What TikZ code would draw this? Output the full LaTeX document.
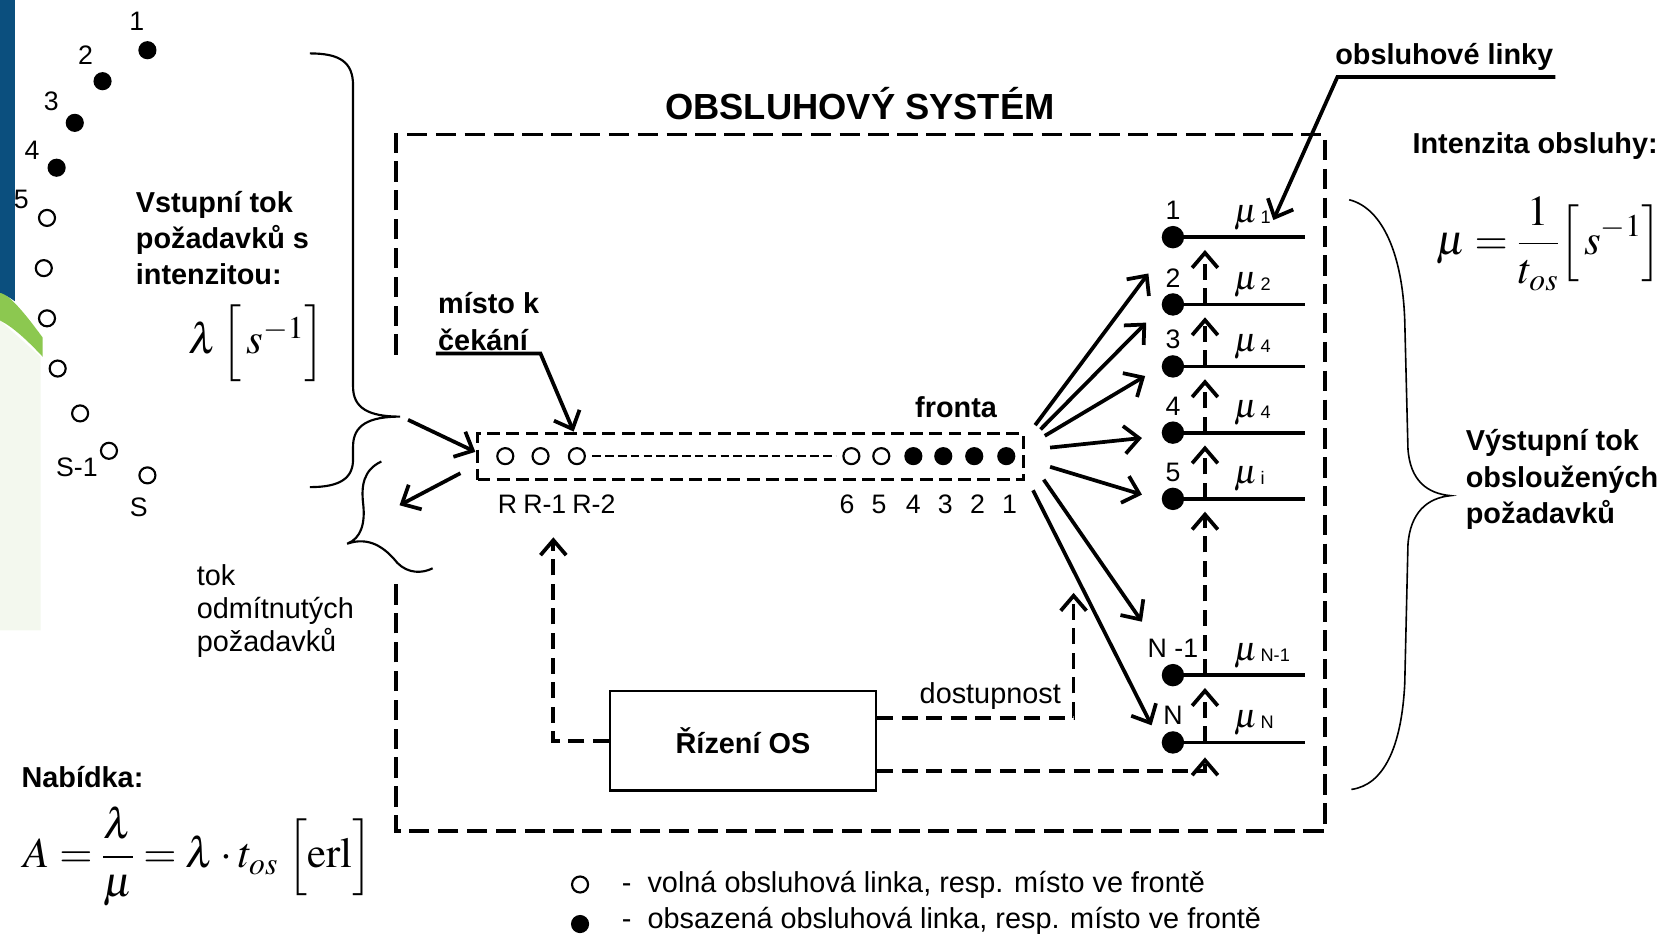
\documentclass[tikz,border=0pt]{standalone}
\usepackage{mathptmx}
\usepackage[no-math]{fontspec}
\setmainfont{Liberation Sans}
\usetikzlibrary{arrows.meta}
\usetikzlibrary{calc}
\definecolor{slideblue}{HTML}{0B4F7E}
\definecolor{slidegreen}{HTML}{8CC850}
\definecolor{slidepale}{HTML}{F3F8EE}
\tikzset{
	sysdash/.style={line width=3.5pt, dash pattern=on 19pt off 8pt},
	ctrldash/.style={line width=3.5pt, dash pattern=on 15pt off 8pt},
	queuedash/.style={line width=2.5pt, dash pattern=on 12pt off 6pt},
	flow/.style={line width=3.5pt, -{Straight Barb[length=14pt, width=26pt]}},
	ctrlflow/.style={ctrldash, -{Straight Barb[length=14pt, width=24pt]}},
	freedot/.style={circle, draw, line width=2pt, minimum size=15pt, inner sep=0pt},
	busydot/.style={circle, fill, minimum size=17pt, inner sep=0pt},
	serverdot/.style={circle, fill, minimum size=21pt, inner sep=0pt},
	numlabel/.style={font=\fontsize{25}{25}\selectfont, inner sep=0pt},
	boldtext/.style={font=\bfseries\fontsize{27}{34}\selectfont, align=left, inner sep=0pt},
	plaintext/.style={font=\fontsize{27}{31}\selectfont, align=left, inner sep=0pt},
	formula/.style={inner sep=0pt, font=\fontsize{40}{40}\selectfont},
	mulabel/.style={inner sep=0pt, anchor=base west},
	brace/.style={line width=2pt},
}

\begin{document}
\begin{tikzpicture}[x=1pt, y=-1pt]
	\useasboundingbox (0,0) rectangle (1568,877);
	% slide background at the left edge
	\fill[slidepale] (0,300) -- (38,334) -- (38,590) -- (0,590) -- cycle;
	\fill[slidegreen] (0,272) .. controls (15,282) and (28,300) .. (40,316) -- (40,334) .. controls (25,318) and (12,306) .. (0,300) -- cycle;
	\fill[slideblue] (0,0) -- (14,0) -- (14,282) .. controls (8,278) and (4,275) .. (0,274) -- cycle;
	
	% incoming requests
	\foreach \x/\y/\n in {138/47/1, 96/76/2, 70/115/3, 53/157/4}
		\node[busydot] (in\n) at (\x,\y) {};
	\foreach \x/\y/\n in {44/204/5, 41/251/6, 44/298/7, 54/345/8, 75/387/9, 102/422/10, 138/445/11}
		\node[freedot] (in\n) at (\x,\y) {};
	\foreach \x/\y/\t/\n in {128/20/1/1, 80/52/2/2, 48/95/3/3, 30/141/4/4, 20/187/5/5, 72/437/S-1/10, 130/475/S/11}
		\node[numlabel] (inlbl\n) at (\x,\y) {\t};
	
	\node[boldtext, anchor=west] (vstup) at (127,223) {Vstupní tok\\požadavků s\\intenzitou:};
	\node[formula, anchor=base, text height=42pt, text depth=24pt] (lambda) at (240,331) {$\lambda\,\Bigl[\,s^{-1}\Bigr]$};
	
	\draw[brace] (290,50) .. controls (318,50) and (330.5,58) .. (330.5,80) -- (330.5,362)
		.. controls (330.5,382) and (345,390) .. (374.5,390)
		.. controls (345,390) and (330.5,398) .. (330.5,418) -- (330.5,430)
		.. controls (330.5,448) and (318,456) .. (290,456);
	\draw[brace] (357,432) .. controls (340,440) and (338,455) .. (340,472)
		.. controls (342,490) and (338,504) .. (325,509)
		.. controls (345,502) and (360,512) .. (372,527)
		.. controls (382,537) and (395,537) .. (405,532);
	
	\node[plaintext, anchor=west] (odmit) at (184,572) {tok\\odmítnutých\\požadavků};
	
	\node[boldtext, anchor=west] (nabidka) at (20,727) {Nabídka:};
	\node[formula, anchor=west] (offer) at (22,802) {$\displaystyle A=\frac{\lambda}{\mu}=\lambda\cdot t_{os}\;\Bigl[\mathrm{erl}\Bigr]$};
	
	% the system
	\node[font=\bfseries\fontsize{34}{34}\selectfont, inner sep=0pt] (title) at (805,97) {OBSLUHOVÝ SYSTÉM};
	\draw[sysdash] (371,332) -- (371,126) -- (1240,126) -- (1240,778) -- (371,778) -- (371,540);
	
	% queue
	\node[draw, queuedash, minimum width=511pt, minimum height=43pt, inner sep=0pt] (queue) at (702.5,427.5) {};
	\foreach \x/\n in {473/R, 506/R1, 540/R2, 797/6, 825/5}
		\node[freedot] (q\n) at (\x,427) {};
	\foreach \x/\n in {855/4, 883/3, 912/2, 942/1}
		\node[busydot] (q\n) at (\x,427) {};
	\draw[line width=2pt, dash pattern=on 8pt off 4pt] ([xshift=6pt]qR2.east) -- ([xshift=-6pt]q6.west);
	\foreach \x/\t/\n in {475/R/R, 510/R-1/R1, 556/R-2/R2, 793/6/6, 823/5/5, 855/4/4, 885/3/3, 915/2/2, 945/1/1}
		\node[numlabel] (ql\n) at (\x,472) {\t};
	\node[boldtext] (fronta) at (895,381) {fronta};
	
	\node[boldtext, anchor=west] (misto) at (410,301) {místo k\\čekání};
	\coordinate (mistoleft) at (408,331);
	\coordinate (mistoknee) at (506,331);
	\coordinate (mistotip) at (537,404);
	\draw[flow] (mistoleft) -- (mistoknee) -- (mistotip);
	
	% in and out of the queue
	\coordinate (inflowa) at (382,393);
	\coordinate (inflowb) at (445,423);
	\draw[flow] (inflowa) -- (inflowb);
	\coordinate (rejecta) at (431,443);
	\coordinate (rejectb) at (374,473);
	\draw[flow] (rejecta) -- (rejectb);
	
	% servers
	\coordinate (lineend) at (1222,0);
	\coordinate (bus) at (1128,0);
	\foreach \n/\y in {s1/222, s2/285, s3/343, s4/405, s5/467, sN1/632, sN/695} {
		\node[serverdot] (\n) at (1098,\y) {};
		\draw[line width=3.5pt] (\n.center) -- (\n -| lineend);
	}
	\foreach \n/\t in {s1/1, s2/2, s3/3, s4/4, s5/5, sN1/N -1, sN/N}
		\node[numlabel] (lbl\n) at ($(\n)+(0,-25)$) {\t};
	\foreach \n/\t in {s1/1, s2/2, s3/4, s4/4, s5/i, sN1/N-1, sN/N}
		\node[mulabel] (mu\n) at ($(\n)+(57,-14)$) {\fontsize{32}{32}\selectfont$\mu$\hspace{3pt}\raisebox{-1pt}{\fontsize{17}{17}\selectfont\t}};
	
	\foreach \i/\sx/\sy/\ex/\ey in {1/969/398/1075/256, 2/974/402/1073/302, 3/978/408/1072/352, 4/983/419/1069/410, 5/983/437/1069/463, 6/977/449/1069/582, 7/967/459/1078/679} {
		\coordinate (fan\i a) at (\sx,\sy);
		\coordinate (fan\i b) at (\ex,\ey);
		\draw[flow] (fan\i a) -- (fan\i b);
	}
	
	\node[boldtext] (linky) at (1352,53) {obsluhové linky};
	\coordinate (linkyend) at (1456,72);
	\coordinate (linkyknee) at (1252,72);
	\coordinate (linkytip) at (1192,206);
	\draw[flow] (linkyend) -- (linkyknee) -- (linkytip);
	
	% control
	\node[draw, line width=2pt, minimum width=249pt, minimum height=93pt, inner sep=0pt,
		font=\bfseries\fontsize{27}{27}\selectfont] (ctrl) at (695.5,693.5) {Řízení OS};
	\coordinate (rtip) at (518,503);
	\draw[ctrlflow] (ctrl.west) -| (rtip);
	\coordinate (availtip) at (1005,555);
	\draw[ctrlflow] ([yshift=21.5pt]ctrl.east) -| (availtip);
	\node[plaintext] (dostup) at (927,652) {dostupnost};
	\coordinate (bustip) at (1128,709);
	\draw[ctrlflow] ([yshift=-28.5pt]ctrl.east) -| (bustip);
	\foreach \a/\b in {s1/s2, s2/s3, s3/s4, s4/s5, s5/sN1, sN1/sN}
		\draw[ctrlflow] (\b -| bus) -- ($(\a -| bus)+(0,12)$);
	
	% right side
	\node[boldtext, anchor=east] (intenz) at (1552,137) {Intenzita obsluhy:};
	\node[formula] (muform) at (1450,228) {$\displaystyle \mu=\frac{1}{t_{os}}\Bigl[\,s^{-1}\Bigr]$};
	\draw[line width=1.5pt] (1263,187) .. controls (1295,195) and (1313,240) .. (1315,300) -- (1318,420)
		.. controls (1320,450) and (1336,462) .. (1358,464)
		.. controls (1336,466) and (1320,480) .. (1318,510) -- (1315,640)
		.. controls (1312,700) and (1295,735) .. (1265,739);
	\node[boldtext, anchor=west] (vystup) at (1372,449) {Výstupní tok\\obsloužených\\požadavků};
	
	% legend
	\node[freedot] (legfree) at (543,828) {};
	\node[busydot] (legbusy) at (543,865) {};
	\node[plaintext, anchor=west] (legfreetxt) at (582,828) {-\ \ volná obsluhová linka, resp. místo ve frontě};
	\node[plaintext, anchor=west] (legbusytxt) at (582,862) {-\ \ obsazená obsluhová linka, resp. místo ve frontě};
\end{tikzpicture}
\end{document}
